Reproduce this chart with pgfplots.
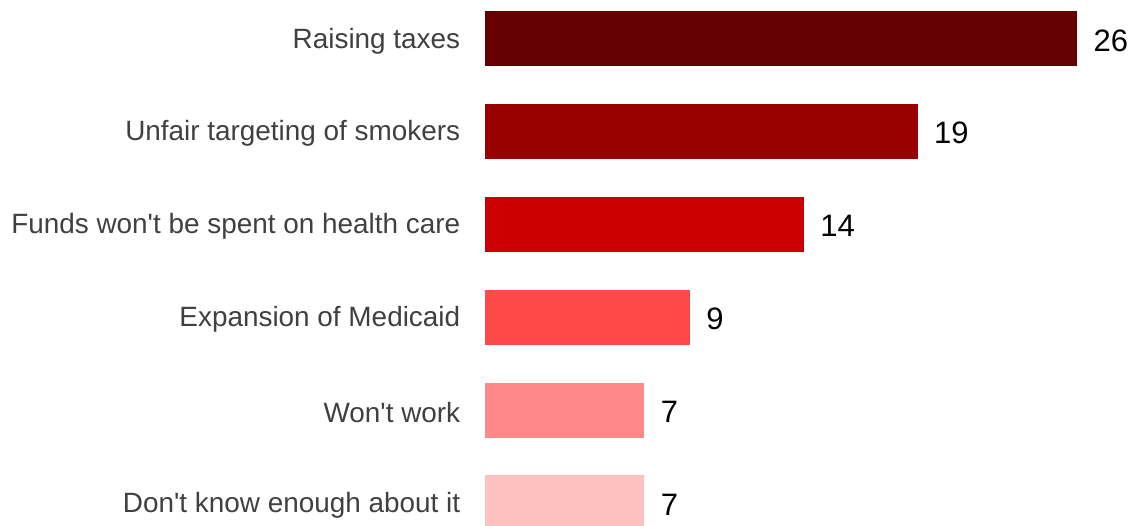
\documentclass[border=0pt]{standalone}
\usepackage{pgfplots}
\pgfplotsset{compat=1.18}
\usepackage{fontspec}
\setmainfont{Liberation Sans}
\definecolor{c1}{HTML}{660000}
\definecolor{c2}{HTML}{990000}
\definecolor{c3}{HTML}{CC0000}
\definecolor{c4}{HTML}{FF4848}
\definecolor{c5}{HTML}{FF8888}
\definecolor{c6}{HTML}{FFC0C0}
\definecolor{lab}{HTML}{404040}
\newcommand{\q}{\textquotesingle}
\begin{document}
\begin{tikzpicture}[x=1pt,y=1pt]
\useasboundingbox (0,0) rectangle (1132,525);
\begin{axis}[
  at={(485pt,0pt)}, anchor=south west,
  scale only axis, width=592pt, height=525pt,
  xmin=0, xmax=26, ymin=-0.2371, ymax=5.420,
  axis line style={draw=none}, tick style={draw=none},
  xtick=\empty,
  ytick={0,1,2,3,4,5},
  yticklabels={Don\q t know enough about it, Won\q t work, Expansion of Medicaid, Funds won\q t be spent on health care, Unfair targeting of smokers, Raising taxes},
  yticklabel style={font=\fontsize{27.9}{30}\selectfont, text=lab, xshift=-17pt, yshift=-2pt},
  xbar, bar width=55pt, bar shift=0pt,
  /pgf/number format/assume math mode=true,
  nodes near coords,
  nodes near coords style={anchor=west, font=\fontsize{31}{34}\selectfont, text=black, xshift=13pt, yshift=-1.5pt},
  clip=true,
]
\addplot[draw=none, fill=c6] coordinates {(7,0)};
\addplot[draw=none, fill=c5] coordinates {(7,1)};
\addplot[draw=none, fill=c4] coordinates {(9,2)};
\addplot[draw=none, fill=c3] coordinates {(14,3)};
\addplot[draw=none, fill=c2] coordinates {(19,4)};
\addplot[draw=none, fill=c1] coordinates {(26,5)};
\end{axis}
\end{tikzpicture}
\end{document}
